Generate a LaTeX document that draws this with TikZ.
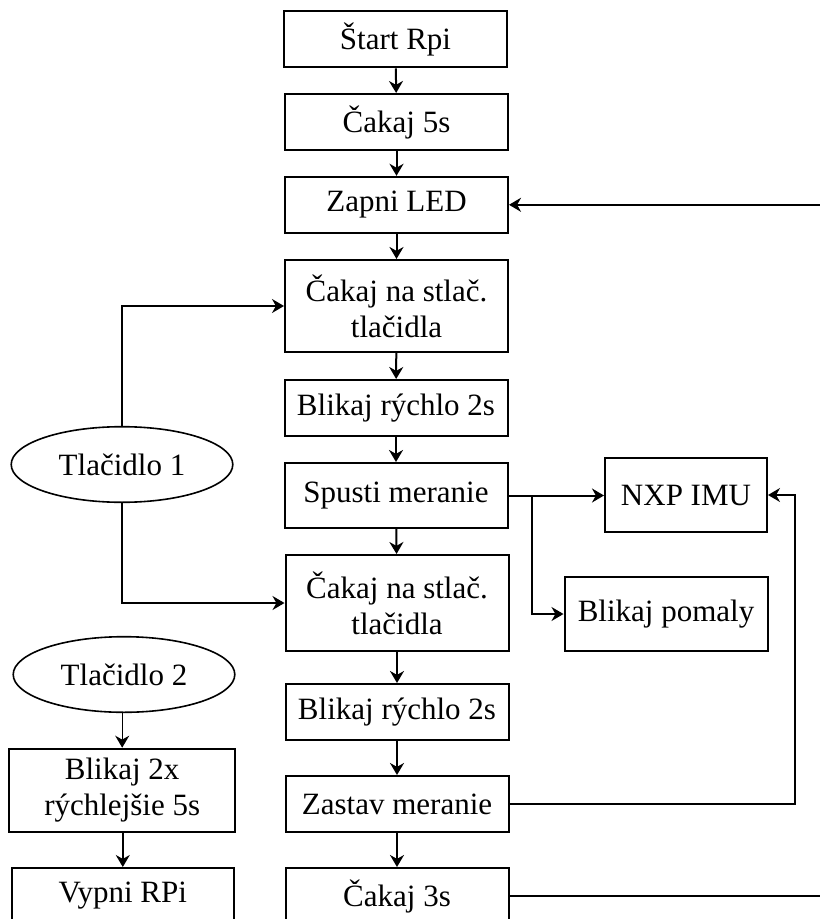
\documentclass[tikz,border=0pt]{standalone}
\usepackage{fontspec}
\setmainfont{Liberation Serif}
\usetikzlibrary{arrows.meta,shapes.geometric}
\begin{document}
\begin{tikzpicture}[x=0.5pt,y=-0.5pt,
  txt/.style={font=\fontsize{15.5}{18}\selectfont},
  box/.style={txt,draw,line width=1pt,inner sep=0pt,align=center,minimum width=111.5pt,minimum height=28pt},
  tall/.style={box,minimum height=47pt},
  oval/.style={txt,draw,ellipse,line width=0.8pt,inner sep=0pt,minimum width=110.8pt,minimum height=37.8pt},
  arr/.style={line width=1pt,-{Stealth[length=6pt,width=7pt]}},
  tarr/.style={line width=0.7pt,-{Stealth[length=6pt,width=7pt]}}]
\useasboundingbox (0,0) rectangle (819,919);
\fill[white] (0,0) rectangle (819,919);
% main column
\node[box] (start) at (395.5,39.3) {Štart Rpi};
\node[box] (wait5) at (396.5,122) {Čakaj 5s};
\node[box] (led) at (396.5,204.8) {Zapni LED};
\node[tall,minimum height=46pt] (wait1) at (396.5,306) {Čakaj na stlač.\\tlačidla};
\node[box] (fast1) at (396,408) {Blikaj rýchlo 2s};
\node[box,minimum height=32.5pt] (meas) at (396,495.5) {Spusti meranie};
\node[tall,minimum height=48pt] (wait2) at (397,603) {Čakaj na stlač.\\tlačidla};
\node[box] (fast2) at (397,712) {Blikaj rýchlo 2s};
\node[box] (stop) at (397,804) {Zastav meranie};
\node[box] (wait3) at (397,896) {Čakaj 3s};
% right column
\node[box,minimum width=81pt,minimum height=37pt] (nxp) at (686,495) {NXP IMU};
\node[box,minimum width=101.5pt,minimum height=37pt] (slow) at (666,614) {Blikaj pomaly};
% left column
\node[oval] (btn1) at (122,464.5) {Tlačidlo 1};
\node[oval] (btn2) at (124,674.5) {Tlačidlo 2};
\node[box,minimum width=112.8pt,minimum height=41.6pt] (blink2x) at (122.2,790.3) {Blikaj 2x\\rýchlejšie 5s};
\node[box,minimum width=110.8pt] (off) at (122.8,896) {Vypni RPi};
% main arrows
\draw[arr] (start) -- (wait5);
\draw[arr] (wait5) -- (led);
\draw[arr] (led) -- (wait1);
\draw[arr] (wait1) -- (fast1);
\draw[arr] (fast1) -- (meas);
\draw[arr] (meas) -- (wait2);
\draw[arr] (wait2) -- (fast2);
\draw[arr] (fast2) -- (stop);
\draw[arr] (stop) -- (wait3);
% branches from Spusti meranie
\coordinate (br) at (532,495.5);
\draw[arr] (meas.east) -- (meas.east -| nxp.west);
\draw[tarr] (br) |- (slow.west);
% Zastav meranie -> NXP IMU
\coordinate (rr) at (795,804);
\draw[tarr] (stop.east) -- (rr) |- (nxp.east);
% Cakaj 3s -> Zapni LED (loop leaves the page)
\coordinate (loop) at (840,896);
\draw[arr] (wait3.east) -- (loop) |- (led.east);
% Tlacidlo 1
\draw[tarr] (btn1.north) |- (wait1.west);
\draw[tarr] (btn1.south) |- (wait2.west);
% Tlacidlo 2
\draw[tarr] (btn2.south -| blink2x.north) -- (blink2x.north);
\draw[tarr] (blink2x.south -| off.north) -- (off.north);
\end{tikzpicture}
\end{document}
